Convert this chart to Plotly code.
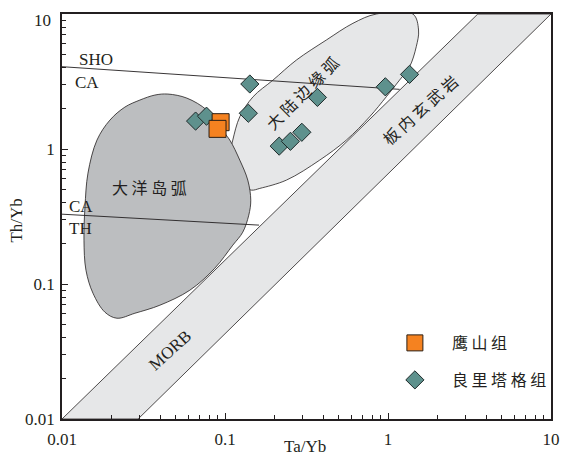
import plotly.graph_objects as go

# ---- sample data (Ta/Yb, Th/Yb) ----
yingshan_ta = [0.094, 0.090]
yingshan_th = [1.58, 1.41]
lianglitage_ta = [0.066, 0.077, 0.142, 0.139, 0.215, 0.252, 0.296, 0.369, 0.963, 1.356]
lianglitage_th = [1.61, 1.75, 3.03, 1.84, 1.05, 1.14, 1.33, 2.41, 2.89, 3.57]

# ---- discrimination fields (log10 Ta/Yb, log10 Th/Yb) ----
ocean_arc_lx = [-1.3505, -1.234, -1.1115, -1.032, -0.9706, -0.9093, -0.8603, -0.8419, -0.8542,
                -0.891, -0.9522, -1.0625, -1.2157, -1.3995, -1.5527, -1.663, -1.7365, -1.81,
                -1.853, -1.8652, -1.8591, -1.8407, -1.7855, -1.7059, -1.614, -1.5221, -1.4301, -1.3505]
ocean_arc_ly = [0.407, 0.377, 0.288, 0.162, 0.066, -0.0823, -0.2305, -0.3788, -0.49,
                -0.616, -0.7124, -0.8829, -1.046, -1.1571, -1.2165, -1.2535, -1.209, -1.0682,
                -0.8977, -0.6753, -0.4307, -0.1786, 0.066, 0.2142, 0.3106, 0.3625, 0.3996, 0.407]

cont_arc_lx = [-0.0717, 0.1526, 0.1875, 0.1734, 0.1324, 0.0711, -0.0104, -0.1127, -0.2555,
               -0.4191, -0.6232, -0.7868, -0.8376, -0.9093, -0.9583, -0.9645, -0.9522, -0.9093,
               -0.8278, -0.7053, -0.5619, -0.3781, -0.2151, -0.0717]
cont_arc_ly = [1.0, 1.0, 0.8814, 0.7576, 0.6094, 0.5107, 0.3869, 0.2387, 0.066,
               -0.0823, -0.2305, -0.292, -0.3047, -0.2676, -0.1193, -0.0082, 0.066, 0.2387,
               0.3869, 0.5107, 0.659, 0.8073, 0.931, 1.0]

band_ta = [0.01, 0.0293, 10, 3.556, 0.01]
band_th = [0.01, 0.01, 10, 10, 0.01]

sho_ca_ta = [0.01, 1.178]
sho_ca_th = [4.07, 2.766]
ca_th_ta = [0.01, 0.1618]
ca_th_th = [0.329, 0.273]

x_ticks = [0.01, 0.1, 1, 10]
x_ticktext = ["0.01", "0.1", "1", "10"]
y_ticks = [0.01, 0.1, 1, 10]
y_ticktext = ["0.01", "0.1", "1", ""]   # top label "10" placed below as text (sits a bit lower)
y_top_label = "10"
minor_vals = [m * d for d in (0.01, 0.1, 1) for m in range(2, 10)]

SERIF = "Liberation Serif, Times New Roman, serif"
CJK = "Noto Sans CJK SC"
TXT = "#231f20"

fig = go.Figure()

fig.add_trace(go.Scatter(x=band_ta, y=band_th, mode="lines", fill="toself",
                         fillcolor="#e6e7e8", line=dict(color="#231f20", width=0.8),
                         showlegend=False, hoverinfo="skip"))
fig.add_trace(go.Scatter(x=[10 ** v for v in cont_arc_lx], y=[10 ** v for v in cont_arc_ly],
                         mode="lines", fill="toself", fillcolor="#e6e7e8",
                         line=dict(color="#231f20", width=0.8, shape="spline", smoothing=1),
                         showlegend=False, hoverinfo="skip"))
fig.add_trace(go.Scatter(x=[10 ** v for v in ocean_arc_lx], y=[10 ** v for v in ocean_arc_ly],
                         mode="lines", fill="toself", fillcolor="#bcbec0",
                         line=dict(color="#231f20", width=0.8, shape="spline", smoothing=1),
                         showlegend=False, hoverinfo="skip"))
fig.add_trace(go.Scatter(x=sho_ca_ta, y=sho_ca_th, mode="lines",
                         line=dict(color="#231f20", width=0.9), showlegend=False))
fig.add_trace(go.Scatter(x=ca_th_ta, y=ca_th_th, mode="lines",
                         line=dict(color="#231f20", width=0.9), showlegend=False))

fig.add_trace(go.Scatter(x=lianglitage_ta, y=lianglitage_th, mode="markers",
                         name="良 里 塔 格 组", legend="legend2",
                         marker=dict(symbol="diamond", size=14, color="#5e918d",
                                     line=dict(color="#1f2a2a", width=1))))
fig.add_trace(go.Scatter(x=yingshan_ta, y=yingshan_th, mode="markers",
                         name="鹰 山 组", legend="legend",
                         marker=dict(symbol="square", size=17, color="#f58220",
                                     line=dict(color="#2a1f15", width=1))))

def ann(text, lx, ly, size=17, family=SERIF, angle=0):
    fig.add_annotation(x=lx, y=ly, xref="x", yref="y", text=text, showarrow=False,
                       textangle=angle, font=dict(family=family, size=size, color=TXT))

ann("大 洋 岛 弧", -1.461, -0.2824, size=16, family=CJK)
ann("大 陆 边 缘 弧", -0.5294, 0.4144, size=16, family=CJK, angle=-45)
ann("板 内 玄 武 岩", 0.1936, 0.2884, size=16, family=CJK, angle=-42)
ann("MORB", -1.3382, -1.491, size=17, angle=-42)
ann("SHO", -1.7917, 0.6664)
ann("CA", -1.8468, 0.496)
ann("CA", -1.8836, -0.4233)
ann("TH", -1.8836, -0.5864)

fig.add_annotation(x=0.497, y=-0.068, xref="paper", yref="paper", text="Ta/Yb",
                   showarrow=False, yanchor="middle",
                   font=dict(family=SERIF, size=17, color=TXT))
fig.add_annotation(x=-0.092, y=0.49, xref="paper", yref="paper", text="Th/Yb",
                   showarrow=False, textangle=-90, xanchor="center",
                   font=dict(family=SERIF, size=17, color=TXT))
fig.add_annotation(x=-0.019, y=0.985, xref="paper", yref="paper", text=y_top_label,
                   showarrow=False, xanchor="right", yanchor="middle",
                   font=dict(family=SERIF, size=17, color=TXT))

axis_common = dict(type="log", range=[-2, 1], showgrid=False, zeroline=False,
                   automargin=False, ticklabeloverflow="allow",
                   showline=True, linecolor="#231f20", linewidth=1.6, mirror=True,
                   ticks="inside", ticklen=6, tickwidth=1, tickcolor="#231f20",
                   minor=dict(tickvals=minor_vals, ticks="inside", ticklen=4,
                              tickwidth=1, tickcolor="#231f20", showgrid=False),
                   tickfont=dict(family=SERIF, size=17, color=TXT))

fig.update_layout(
    width=561, height=461,
    margin=dict(l=62, r=10, t=14, b=42, autoexpand=False),
    paper_bgcolor="white", plot_bgcolor="white",
    xaxis=dict(axis_common, tickvals=x_ticks, ticktext=x_ticktext, ticklabelstandoff=4),
    yaxis=dict(axis_common, tickvals=y_ticks, ticktext=y_ticktext, ticklabelstandoff=2),
    legend=dict(x=0.646, y=0.1877, xanchor="left", yanchor="middle", itemwidth=64,
                bgcolor="rgba(0,0,0,0)", font=dict(family=CJK, size=16, color=TXT)),
    legend2=dict(x=0.646, y=0.0963, xanchor="left", yanchor="middle", itemwidth=64,
                 bgcolor="rgba(0,0,0,0)", font=dict(family=CJK, size=16, color=TXT)),
)

# remove the browser's default 8px page margin so the figure fills the window exactly
fig.write_html("out.html", config={"displayModeBar": False},
               post_script="document.body.style.margin='0';document.body.style.overflow='hidden';")
